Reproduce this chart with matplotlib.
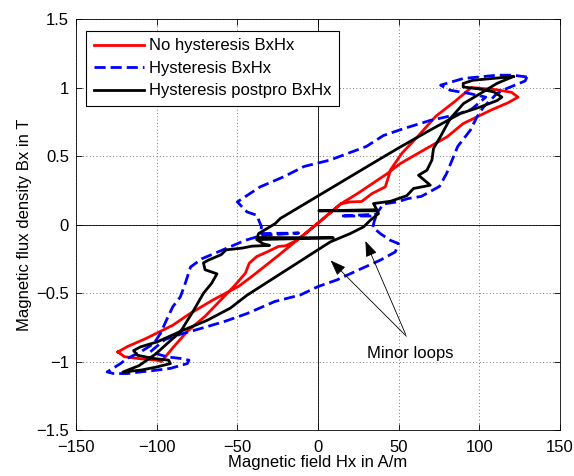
import matplotlib as mpl
import matplotlib.pyplot as plt

mpl.rcParams['font.family'] = ['Liberation Sans', 'DejaVu Sans']
mpl.rcParams.update({'font.size': 12})

# No hysteresis BxHx (red)
red_H = [-124, -118, -107, -90, -80, -65, -49, -40, -25, -13, 0, 14,
         20, 27, 33.5, 41.7, 43.7, 45, 52, 62, 73, 85, 95,
         100, 110, 120, 124,
         118, 107, 90, 80, 65, 51, 42.7, 25, 14, 0, -13,
         -20, -24.5, -31, -38, -42.6, -45, -52, -61, -70, -81, -89.5, -97,
         -100, -110, -120, -124]
red_B = [-0.93, -0.89, -0.834, -0.735, -0.655, -0.55, -0.45, -0.37, -0.23, -0.115, 0.01, 0.15,
         0.165, 0.168, 0.226, 0.275, 0.348, 0.40, 0.52, 0.645, 0.79, 0.90, 1.0,
         0.995, 0.985, 0.965, 0.93,
         0.89, 0.834, 0.737, 0.64, 0.54, 0.445, 0.37, 0.23, 0.15, 0.01, -0.115,
         -0.155, -0.16, -0.197, -0.234, -0.282, -0.355, -0.45, -0.56, -0.67, -0.78, -0.893, -1.0,
         -0.99, -0.98, -0.965, -0.93]

# Hysteresis BxHx (blue dashed)
blue_H = [129.5, 121, 111, 90, 76, 82, 94, 104, 95, 85, 69.6, 53, 40.6, 30, 7.3, -8.6, -21, -36, -50,
          -44, -38, -35, -36, -12, -35, -45, -57, -66, -72, -79, -82, -85.3, -90, -94, -97.7, -101.8,
          -110, -118.3, -122.4, -130.7, -126.6, -118.3, -110, -100, -91.5, -81, -80, -85, -93.5, -104,
          -95, -85, -73, -58.5, -44, -26.8, -10.9, 0, 11.8, 25.4, 38.6, 47.9, 49.9, 44.8, 38.6, 34,
          35, 36, 14, 36, 40.6, 49, 56, 64, 75.3, 79.8, 86.6, 94.4, 98.5, 102.6, 106.8, 110.9, 117,
          128.4, 129.5]
blue_B = [1.077, 1.09, 1.09, 1.066, 1.017, 0.98, 0.956, 0.93, 0.84, 0.80, 0.76, 0.70, 0.65, 0.57, 0.47,
          0.424, 0.35, 0.274, 0.165, 0.092, 0.068, -0.017, -0.066, -0.062, -0.08, -0.115, -0.175,
          -0.22, -0.25, -0.31, -0.42, -0.528, -0.60, -0.70, -0.796, -0.869, -0.93, -0.978, -1.015,
          -1.076, -1.088, -1.088, -1.076, -1.063, -1.05, -1.015, -0.99, -0.978, -0.966, -0.93,
          -0.84, -0.80, -0.76, -0.71, -0.65, -0.562, -0.514, -0.453, -0.404, -0.33, -0.26, -0.20,
          -0.139, -0.115, -0.066, -0.02, 0.03, 0.062, 0.062, 0.075, 0.15, 0.165, 0.19, 0.205, 0.278,
          0.375, 0.57, 0.688, 0.785, 0.858, 0.907, 0.956, 0.993, 1.048, 1.077]

# Hysteresis postpro BxHx (black)
black_H = [121, 96, 90, 90, 100, 109, 114, 111, 100.6, 88.2, 69.6, 51, 38.6, -7.9, -23.4, -26.5,
           -36.8, -37.8, 9.5, -38, -34, -30, -41, -47, -57, -60, -68, -71, -70, -62.6, -66, -70.9,
           -77, -85.3, -93.5, -100.6, -110.9, -121,
           -110, -100, -91.5, -92.6, -102, -112, -114.3, -110, -99.8, -83.3, -68.8, -54.3, -44,
           7.6, 20, 28.3, 32.4, 37.5, 36.5, 0.5, 36.5, 34.4, 45, 55, 59.2, 69.6, 62.3, 67.5, 70.6,
           71.6, 75.8, 82, 90.2, 100.6, 110.9, 121]
black_B = [1.08, 1.053, 1.03, 1.004, 0.99, 0.968, 0.93, 0.905, 0.858, 0.81, 0.69, 0.566, 0.48, 0.153,
           0.044, 0.007, -0.066, -0.095, -0.097, -0.11, -0.14, -0.152, -0.158, -0.172, -0.185,
           -0.22, -0.26, -0.28, -0.33, -0.36, -0.43, -0.50, -0.625, -0.784, -0.869, -0.945, -1.03,
           -1.077,
           -1.063, -1.04, -1.015, -0.99, -0.978, -0.954, -0.92, -0.893, -0.857, -0.77, -0.70, -0.61,
           -0.516, -0.127, -0.066, -0.017, 0.031, 0.08, 0.10, 0.10, 0.108, 0.153, 0.17, 0.21, 0.263,
           0.287, 0.36, 0.396, 0.47, 0.555, 0.64, 0.774, 0.883, 0.956, 1.03, 1.08]

x_ticks = [-150, -100, -50, 0, 50, 100, 150]
x_tick_texts = ['\u2212150', '\u2212100', '\u221250', '0', '50', '100', '150']
y_ticks = [-1.5, -1, -0.5, 0, 0.5, 1, 1.5]
y_tick_texts = ['\u22121.5', '\u22121', '\u22120.5', '0', '0.5', '1', '1.5']

fig = plt.figure(figsize=(5.74, 4.76), dpi=100)
ax = fig.add_axes([0.1324, 0.0966, 0.8432, 0.8634])

ax.axhline(0, color='black', linewidth=0.6, zorder=1)
ax.axvline(0, color='black', linewidth=0.6, zorder=1)

ax.plot(red_H, red_B, color='#ff0000', linewidth=2, label='No hysteresis BxHx', zorder=3)
ax.plot(blue_H, blue_B, color='#0000ff', linewidth=2, dashes=(4, 1.8), label='Hysteresis BxHx', zorder=3)
ax.plot(black_H, black_B, color='black', linewidth=2, label='Hysteresis postpro BxHx', zorder=4)

ax.set_xlim(-150, 150)
ax.set_ylim(-1.5, 1.5)
ax.set_xticks(x_ticks, x_tick_texts)
ax.set_yticks(y_ticks, y_tick_texts)
ax.tick_params(direction='in', top=True, right=True, length=4, width=0.6)
ax.tick_params(axis='x', pad=7)
ax.tick_params(axis='y', pad=5)
ax.grid(True, color='0.3', linestyle=(0, (1, 3)), linewidth=0.6)
ax.set_axisbelow(True)
for s in ax.spines.values():
    s.set_linewidth(0.6)

ax.set_xlabel('Magnetic field Hx in A/m', labelpad=0)
ax.set_ylabel('Magnetic flux density Bx in T', labelpad=3)

leg = ax.legend(loc='upper left', bbox_to_anchor=(0.0207, 0.971), borderaxespad=0,
                handlelength=3.0, handletextpad=0.3, labelspacing=0.45, borderpad=0.45,
                fancybox=False, framealpha=1)
leg.get_frame().set_edgecolor('black')
leg.get_frame().set_linewidth(0.8)

ax.text(30.4, -0.94, 'Minor loops', ha='left', va='center', zorder=5)
ax.annotate('', xy=(6.6, -0.248), xytext=(56, -0.83),
            arrowprops=dict(arrowstyle='-|>,head_length=0.8,head_width=0.3', color='black', lw=0.6))
ax.annotate('', xy=(28.7, -0.102), xytext=(55, -0.82),
            arrowprops=dict(arrowstyle='-|>,head_length=0.8,head_width=0.3', color='black', lw=0.6))

fig.savefig('out.png', dpi=100)
